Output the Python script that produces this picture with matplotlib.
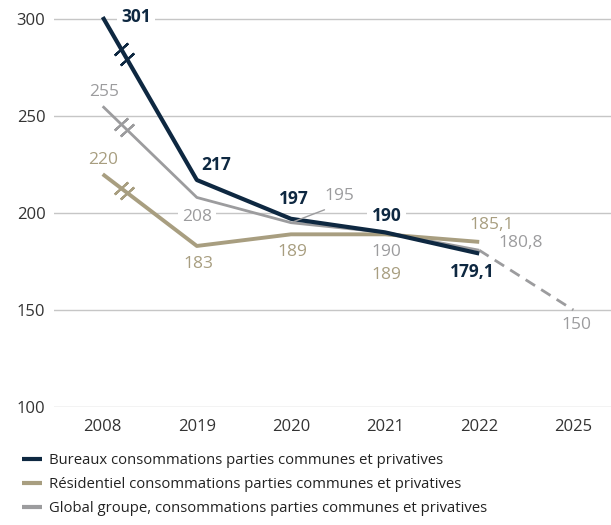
import matplotlib
matplotlib.use("Agg")
import matplotlib.pyplot as plt

plt.rcParams['font.family'] = ['Open Sans', 'DejaVu Sans']

years = ['2008', '2019', '2020', '2021', '2022', '2025']
bureaux = [301, 217, 197, 190, 179.1]
residentiel = [220, 183, 189, 189, 185.1]
global_grp = [255, 208, 195, 190, 180.8]
global_target = [180.8, 150]

navy = '#0e2841'
khaki = '#a89e80'
grey = '#9c9c9e'
grid_c = '#c6c6c6'

fig = plt.figure(figsize=(6.11, 5.25), dpi=100)
ax = fig.add_axes([0.088, 0.2248, 0.912, 0.7575])

x = list(range(len(bureaux)))
ax.plot(x, global_grp, color=grey, lw=2.0, solid_capstyle='butt', zorder=3,
        label='Global groupe, consommations parties communes et privatives')
ax.plot([4, 5], global_target, color=grey, lw=2.0, ls=(0, (4, 2.6)), zorder=3)
ax.plot(x, residentiel, color=khaki, lw=2.8, solid_capstyle='butt', zorder=4,
        label='Résidentiel consommations parties communes et privatives')
ax.plot(x, bureaux, color=navy, lw=3.0, solid_capstyle='butt', zorder=5,
        label='Bureaux consommations parties communes et privatives')

# break marks between 2008 and 2019
for vals, col in [(bureaux, navy), (residentiel, khaki), (global_grp, grey)]:
    for t in (0.195, 0.26):
        ax.plot(t, vals[0] + t * (vals[1] - vals[0]), marker=(2, 2, -48),
                ms=13, mew=1.6, color=col, zorder=6)

ax.set_ylim(100, 305)
ax.set_xlim(-0.52, 5.4)
ax.set_yticks([100, 150, 200, 250, 300])
ax.set_xticks(range(len(years)))
ax.set_xticklabels(years)
ax.tick_params(axis='both', length=0, labelsize=12, colors='#333333')
ax.tick_params(axis='x', pad=9)
ax.tick_params(axis='y', pad=6)
ax.yaxis.grid(True, color=grid_c, lw=1)
ax.set_axisbelow(True)
for s in ax.spines.values():
    s.set_visible(False)

def lab(i, v, txt, col, dx, dy, bold=False, bg=False):
    kw = {}
    if bg:
        kw['bbox'] = dict(boxstyle='square,pad=0.25', fc='white', ec='none')
    ax.annotate(txt, (i, v), xytext=(dx, dy), textcoords='offset points',
                ha='center', va='center', color=col, fontsize=12.5,
                fontweight='bold' if bold else 'normal', zorder=2.5, **kw)

# bureaux labels
b_off = [(24, 0), (14, 11), (2, 14), (1, 12), (-5, -13)]
for i, v in enumerate(bureaux):
    lab(i, v, f'{v:g}'.replace('.', ','), navy, *b_off[i], bold=True, bg=True)

# residentiel labels
r_off = [(0, 10), (1, -13), (1, -13), (1, -29), (9, 12)]
for i, v in enumerate(residentiel):
    lab(i, v, f'{v:g}'.replace('.', ','), khaki, *r_off[i])

# global labels
g_off = [(1, 10), (0, -14), (35, 19), (1, -14), (30, 5)]
for i, v in enumerate(global_grp):
    lab(i, v, f'{v:g}'.replace('.', ','), grey, *g_off[i], bg=(i == 1))
lab(5, global_target[1], f'{global_target[1]:g}', grey, 2, -11)

# leader line for 195
ax.annotate('', (2, global_grp[2]), xytext=(26, 10), textcoords='offset points',
            arrowprops=dict(arrowstyle='-', color=grey, lw=1), zorder=6)

handles, labels = ax.get_legend_handles_labels()
leg = fig.legend(handles[::-1], labels[::-1], loc='upper left',
                 bbox_to_anchor=(22 / 611, 1 - 453 / 525), frameon=False,
                 fontsize=10.7, handlelength=1.35, handletextpad=0.45,
                 labelspacing=0.6, borderpad=0, borderaxespad=0)
for h in leg.legend_handles:
    h.set_linewidth(3)
for t in leg.get_texts():
    t.set_color('#222222')

fig.savefig('out.png', dpi=100)
